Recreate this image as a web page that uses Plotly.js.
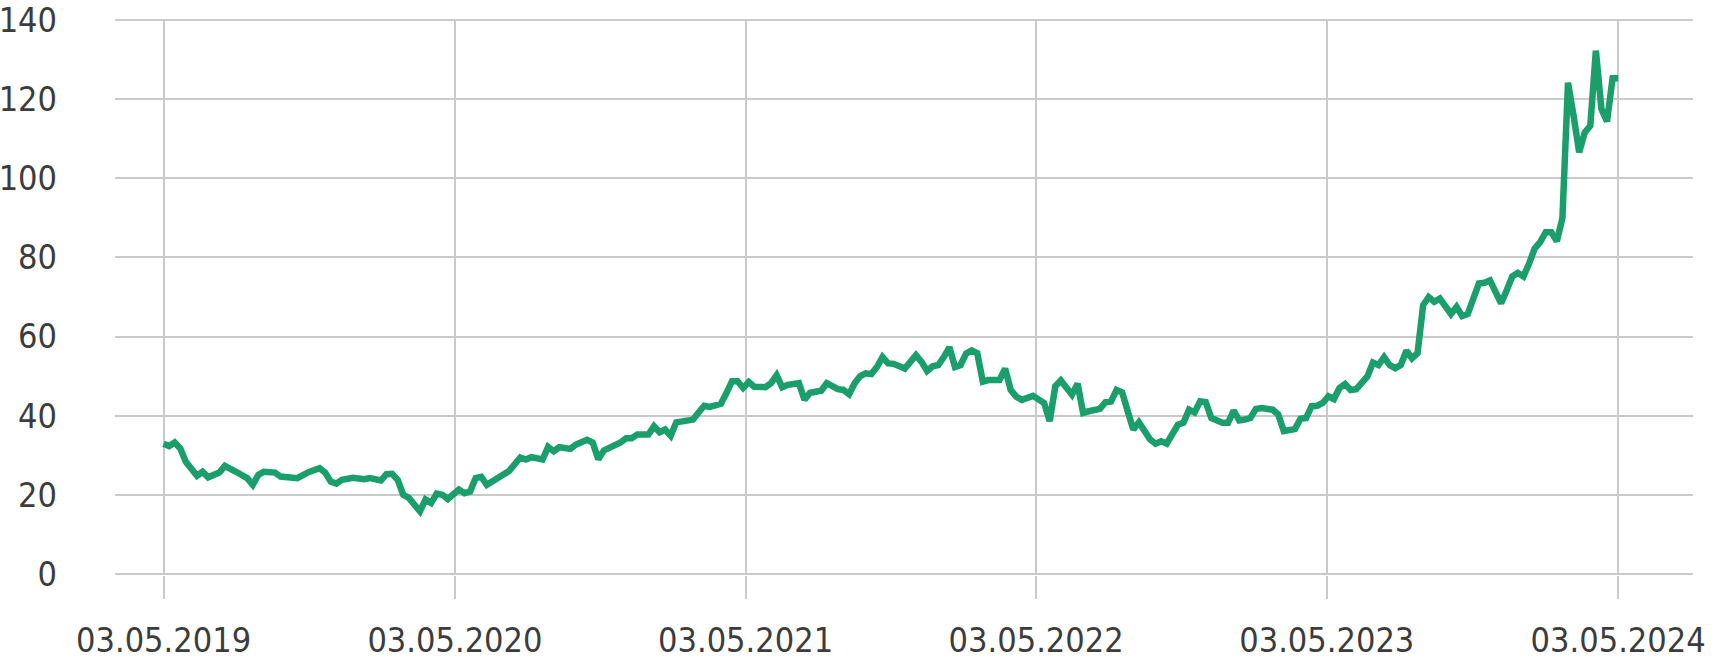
<!DOCTYPE html>
<html>
<head>
<meta charset="utf-8">
<script src="https://cdn.plot.ly/plotly-3.0.1.min.js"></script>
<style>
html,body{margin:0;padding:0;background:#fff;}
#chart{width:1718px;height:658px;}
</style>
</head>
<body>
<div id="chart"></div>
<script>
// Series start date (first weekly observation)
const startDate = '2019-05-03';
// Week offsets from startDate for each read point
const weekOffsets = [0,1,2,3,4,6,7,8,10,11,13,15,16,17,18,20,21,23,24,26,28,29,30,31,32,34,36,37,39,40,41,42,43,44,46,47,48,49,50,51,52,53,
54,55,56,57,58,59,61,62,64,65,66,68,69,70,71,73,74,76,77,78,79,81,82,83,84,85,87,88,89,90,91,92,93,95,96,97,98,100,101,102,103,104,
105,106,108,109,110,111,112,114,115,116,118,119,121,122,123,124,125,126,127,128,129,130,131,133,134,135,136,137,138,139,140,141,142,143,144,145,146,147,148,150,151,152,153,154,
156,157,158,159,160,161,162,163,164,165,166,168,169,170,171,172,173,174,175,176,177,178,179,180,181,182,183,184,185,186,187,188,190,191,192,193,194,195,196,197,199,200,201,202,203,204,205,206,207,208,
209,210,211,212,213,214,215,216,217,218,219,220,221,222,223,224,225,226,227,228,229,230,231,232,233,234,235,236,237,238,239,240,241,242,243,244,245,246,247,248,249,250,251,252,253,254,255,256,257,258,259,260,261];
// Values
const values = [32.9,32.3,33.2,31.7,28.3,24.8,25.8,24.4,25.6,27.3,25.8,24.2,22.5,25,25.8,25.6,24.6,24.2,24.2,25.7,26.7,25.6,23.3,22.8,23.8,24.3,23.9,24.2,23.6,25.2,25.3,23.8,20,19.2,15.8,18.8,17.9,20.3,20,18.9,20,21.3,
20.4,20.8,24.2,24.5,22.5,23.4,25.5,26,29.4,28.9,29.5,28.9,32.1,31,32,31.6,32.7,33.9,33.2,29,31.2,32.4,33.2,34.3,34.3,35.2,35.2,37.3,35.8,36.5,34.9,38.3,38.6,39,40.8,42.5,42.2,43,45.7,48.7,48.7,47,
48.5,47.3,47.2,48.2,50.2,47.2,47.8,48.2,44,45.8,46.3,48.2,46.7,46.5,45.4,48.2,50,50.7,50.5,52.3,54.8,53.2,53.1,51.9,53.6,55.3,53.6,51.3,52.5,52.8,54.8,57.3,52.3,52.8,55.7,56.5,55.8,48.6,49,49,51.9,46.5,44.8,44,
45,44.2,43.2,38.6,47.4,48.9,47,45.3,48.1,40.7,41.1,41.7,43.4,43.6,46.5,45.9,41.1,36.5,38.3,36.1,34,32.9,33.5,32.9,35.2,37.7,38.2,41.5,40.8,43.6,43.4,39.4,38.2,38.2,41.3,38.8,39,39.4,41.7,41.9,41.5,40.3,36.1,36.5,36.6,39.2,39.4,42.4,42.5,43.2,
44.9,44.2,47,48,46.5,46.7,48.4,49.9,53.4,52.8,54.8,52.8,52,52.8,56.4,54.5,55.8,67.9,70,68.8,69.6,67.9,65.7,67.5,65.2,65.7,69.6,73.4,73.6,74.2,71.3,68.4,71.7,75.2,76.1,75.2,78.4,82.2,83.9,86.4,86.4,84.1,90,124.2,115.8,106.6,111.6,113.3,132.3,117.5,114.4,125.3,125.3];

const tickDates = ['2019-05-03','2020-05-03','2021-05-03','2022-05-03','2023-05-03','2024-05-03'];
const tickLabels = ['03.05.2019','03.05.2020','03.05.2021','03.05.2022','03.05.2023','03.05.2024'];
const yTicks = [0,20,40,60,80,100,120,140];

const t0 = Date.parse(startDate + 'T00:00:00Z');
const dates = weekOffsets.map(w => new Date(t0 + w*7*86400000).toISOString().slice(0,10));

const fontFam = '"DejaVu Sans Condensed", "DejaVu Sans", sans-serif';
const gridCol = '#cacaca';
const textCol = '#3c3c3c';

const trace = {
  x: dates, y: values, type: 'scatter', mode: 'lines',
  line: {color: '#1a9e6b', width: 6.5, shape: 'linear'},
  hoverinfo: 'skip'
};

const layout = {
  width: 1718, height: 658,
  margin: {l: 115, r: 25, t: 19, b: 83},
  paper_bgcolor: '#fff', plot_bgcolor: '#fff',
  showlegend: false,
  font: {family: fontFam, color: textCol, size: 34},
  xaxis: {
    type: 'date',
    range: ['2019-03-03', '2024-08-05'],
    tickmode: 'array', tickvals: tickDates, ticktext: tickLabels,
    showgrid: true, gridcolor: gridCol, gridwidth: 2,
    ticks: 'outside', ticklen: 23, tickwidth: 2, tickcolor: gridCol,
    zeroline: false, showline: false,
    tickfont: {family: fontFam, size: 34, color: textCol},
    ticklabelstandoff: 12,
    ticklabeloverflow: 'allow'
  },
  yaxis: {
    range: [-0.3, 140.3],
    tickmode: 'array', tickvals: yTicks, ticktext: yTicks.map(String),
    showgrid: true, gridcolor: gridCol, gridwidth: 2,
    ticks: '', zeroline: false, showline: false,
    tickfont: {family: fontFam, size: 34, color: textCol},
    ticklabelstandoff: 57,
    ticklabeloverflow: 'allow'
  }
};

Plotly.newPlot('chart', [trace], layout, {staticPlot: true, displayModeBar: false});
</script>
</body>
</html>
